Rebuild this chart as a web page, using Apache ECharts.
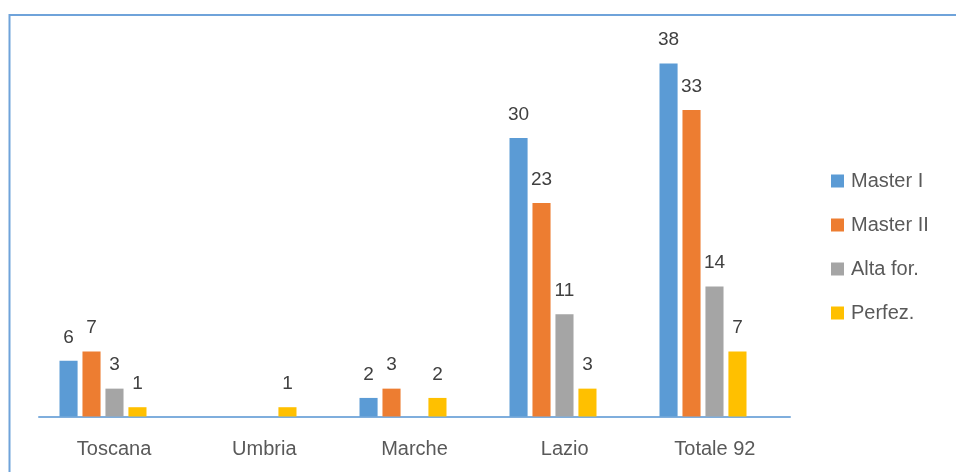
<!DOCTYPE html>
<html>
<head>
<meta charset="utf-8">
<script src="https://cdn.jsdelivr.net/npm/echarts@6/dist/echarts.min.js"></script>
<style>
  html, body { margin: 0; padding: 0; background: #fff; }
  #chart { width: 956px; height: 472px; }
</style>
</head>
<body>
<div id="chart"></div>
<script>
// Regioni e totali per tipologia di corso
const categories = ['Toscana', 'Umbria', 'Marche', 'Lazio', 'Totale 92'];
const masterI = [6, 0, 2, 30, 38];
const masterII = [7, 0, 3, 23, 33];
const altaFor = [3, 0, 0, 11, 14];
const perfez = [1, 1, 2, 3, 7];

const seriesNames = ['Master I', 'Master II', 'Alta for.', 'Perfez.'];
const seriesData = [masterI, masterII, altaFor, perfez];
const colors = ['#5B9BD5', '#ED7D31', '#A5A5A5', '#FFC000'];

const FONT = 'Liberation Sans';

const chart = echarts.init(document.getElementById('chart'));
chart.setOption({
  animation: false,
  textStyle: { fontFamily: FONT },
  graphic: [{
    type: 'rect',
    shape: { x: 9.5, y: 15, width: 1100, height: 1100 },
    style: { fill: 'none', stroke: '#6FA3DA', lineWidth: 2 },
    silent: true
  }],
  // grid 0 holds the bars, grid 1 draws the visible category axis
  grid: [
    { left: 28, right: 178, top: 45, bottom: 55.5 },
    { left: 39, right: 166, top: 45, bottom: 55.5 }
  ],
  legend: {
    orient: 'vertical',
    left: 826,
    top: 166,
    itemWidth: 13,
    itemHeight: 13,
    itemGap: 24,
    icon: 'rect',
    textStyle: { fontFamily: FONT, fontSize: 20, lineHeight: 20, color: '#595959', padding: [0, 0, 0, 2] },
    data: seriesNames
  },
  xAxis: [
    {
      type: 'category',
      gridIndex: 0,
      data: categories,
      show: false
    },
    {
      type: 'category',
      gridIndex: 1,
      data: categories,
      axisLine: { lineStyle: { color: '#7FAEDD', width: 2 } },
      axisTick: { show: false },
      axisLabel: { fontFamily: FONT, fontSize: 20, color: '#595959', margin: 23 }
    }
  ],
  yAxis: [
    { type: 'value', gridIndex: 0, min: 0, max: 40, show: false, splitLine: { show: false } },
    { type: 'value', gridIndex: 1, min: 0, max: 40, show: false, splitLine: { show: false } }
  ],
  series: seriesData.map((d, i) => ({
    name: seriesNames[i],
    type: 'bar',
    xAxisIndex: 0,
    yAxisIndex: 0,
    data: d,
    barGap: '27%',
    barCategoryGap: '42%',
    itemStyle: { color: colors[i] },
    label: {
      show: true,
      position: 'top',
      distance: 14,
      fontFamily: FONT,
      fontSize: 19,
      color: '#404040',
      formatter: p => (p.value === 0 ? '' : String(p.value))
    }
  }))
});
</script>
</body>
</html>
